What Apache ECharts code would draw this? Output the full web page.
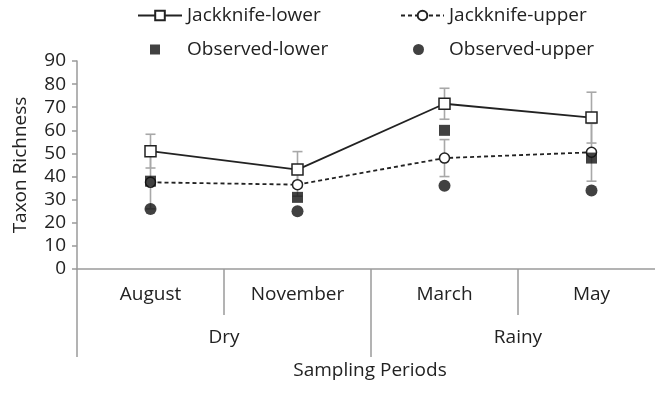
<!DOCTYPE html>
<html>
<head>
<meta charset="utf-8">
<script src="https://cdn.jsdelivr.net/npm/echarts@6/dist/echarts.min.js"></script>
<style>
  html, body { margin: 0; padding: 0; background: #fff; }
  #chart { width: 655px; height: 404px; }
</style>
</head>
<body>
<div id="chart"></div>
<script>
// Sampling periods (months) grouped into seasons
const months = ['August', 'November', 'March', 'May'];
const seasons = ['Dry', 'Rainy'];
const yTicks = { min: 0, max: 90, interval: 10 };

// Estimated taxon richness
const jackknifeLower = [51, 43, 71.5, 65.5];
const jackknifeLowerErr = [7.3, 7.8, 6.7, 11];
const jackknifeUpper = [37.5, 36.5, 48, 50.5];
const jackknifeUpperErr = [11.5, 5, 8, 12.5];
const observedLower = [38, 31, 60, 48];
const observedUpper = [26, 25, 36, 34];

const FONT = 'Open Sans';
const FS = 19;
const TEXT = '#222';
const AXIS_GREY = '#9a9a9a';

function errorSeries(name, means, errs) {
  return {
    type: 'custom',
    name: name + ' error',
    z: 1,
    silent: true,
    data: means.map((m, i) => [i, m - errs[i], m + errs[i]]),
    renderItem: function (params, api) {
      const lo = api.coord([api.value(0), api.value(1)]);
      const hi = api.coord([api.value(0), api.value(2)]);
      const cap = 5;
      const style = { stroke: '#a8a8a8', lineWidth: 1.6 };
      return {
        type: 'group',
        children: [
          { type: 'line', shape: { x1: lo[0], y1: lo[1], x2: hi[0], y2: hi[1] }, style: style },
          { type: 'line', shape: { x1: lo[0] - cap, y1: lo[1], x2: lo[0] + cap, y2: lo[1] }, style: style },
          { type: 'line', shape: { x1: hi[0] - cap, y1: hi[1], x2: hi[0] + cap, y2: hi[1] }, style: style }
        ]
      };
    }
  };
}

function legendText(padLeft) {
  return { fontFamily: FONT, fontSize: FS, color: TEXT, padding: [0, 0, 0, padLeft] };
}

const option = {
  animation: false,
  backgroundColor: '#fff',
  textStyle: { fontFamily: FONT },
  grid: { left: 77, top: 61, width: 588, height: 208, containLabel: false, outerBoundsMode: 'none' },
  legend: [
    { data: ['Jackknife-lower'], left: 137, top: 6, itemWidth: 44, itemHeight: 12, textStyle: legendText(0), padding: 0 },
    { data: ['Jackknife-upper'], left: 400, top: 6, itemWidth: 43, itemHeight: 12, textStyle: legendText(0), padding: 0 },
    { data: ['Observed-lower'], left: 150, top: 40, itemWidth: 10, itemHeight: 10, textStyle: legendText(22), padding: 0 },
    { data: ['Observed-upper'], left: 413, top: 40, itemWidth: 11, itemHeight: 11, textStyle: legendText(20), padding: 0 }
  ],
  xAxis: [
    {
      type: 'category',
      data: months,
      position: 'bottom',
      axisLine: { show: true, lineStyle: { color: AXIS_GREY, width: 1.5 } },
      axisTick: { show: true, length: 46, alignWithLabel: false, lineStyle: { color: AXIS_GREY, width: 1.5 } },
      axisLabel: { margin: 16, fontFamily: FONT, fontSize: FS, color: TEXT },
      splitLine: { show: false }
    },
    {
      type: 'category',
      data: seasons,
      position: 'bottom',
      offset: 0,
      axisLine: { show: false },
      axisTick: { show: true, length: 88, alignWithLabel: false, lineStyle: { color: AXIS_GREY, width: 1.5 } },
      axisLabel: { margin: 59, fontFamily: FONT, fontSize: FS, color: TEXT },
      splitLine: { show: false }
    }
  ],
  yAxis: {
    type: 'value',
    min: yTicks.min,
    max: yTicks.max,
    interval: yTicks.interval,
    axisLine: { show: true, lineStyle: { color: AXIS_GREY, width: 1.5 } },
    axisTick: { show: true, length: 5, inside: false, lineStyle: { color: AXIS_GREY, width: 1.5 } },
    axisLabel: { margin: 11, fontFamily: FONT, fontSize: FS, color: TEXT },
    splitLine: { show: false },
    name: 'Taxon Richness',
    nameLocation: 'middle',
    nameGap: 47,
    nameTextStyle: { fontFamily: FONT, fontSize: FS, color: TEXT }
  },
  graphic: [
    {
      type: 'text',
      x: 370,
      y: 371,
      style: {
        text: 'Sampling Periods',
        fontFamily: FONT,
        fontSize: FS,
        fill: TEXT,
        align: 'center',
        verticalAlign: 'middle'
      }
    }
  ],
  series: [
    errorSeries('Jackknife-lower', jackknifeLower, jackknifeLowerErr),
    errorSeries('Jackknife-upper', jackknifeUpper, jackknifeUpperErr),
    {
      name: 'Jackknife-upper',
      type: 'line',
      z: 3,
      data: jackknifeUpper,
      symbol: 'circle',
      symbolSize: 10,
      lineStyle: { color: '#222', width: 1.8, type: [4, 3] },
      itemStyle: { color: '#fff', borderColor: '#222', borderWidth: 1.5 }
    },
    {
      name: 'Jackknife-lower',
      type: 'line',
      z: 4,
      data: jackknifeLower,
      symbol: 'rect',
      symbolSize: 11,
      lineStyle: { color: '#222', width: 1.8 },
      itemStyle: { color: '#fff', borderColor: '#222', borderWidth: 1.5 }
    },
    {
      name: 'Observed-lower',
      type: 'scatter',
      z: 5,
      data: observedLower,
      symbol: 'rect',
      symbolSize: 11,
      itemStyle: { color: '#111' }
    },
    {
      name: 'Observed-upper',
      type: 'scatter',
      z: 5,
      data: observedUpper,
      symbol: 'circle',
      symbolSize: 12,
      itemStyle: { color: '#111' }
    }
  ]
};

const chart = echarts.init(document.getElementById('chart'), null, { renderer: 'canvas' });
chart.setOption(option);
</script>
</body>
</html>
